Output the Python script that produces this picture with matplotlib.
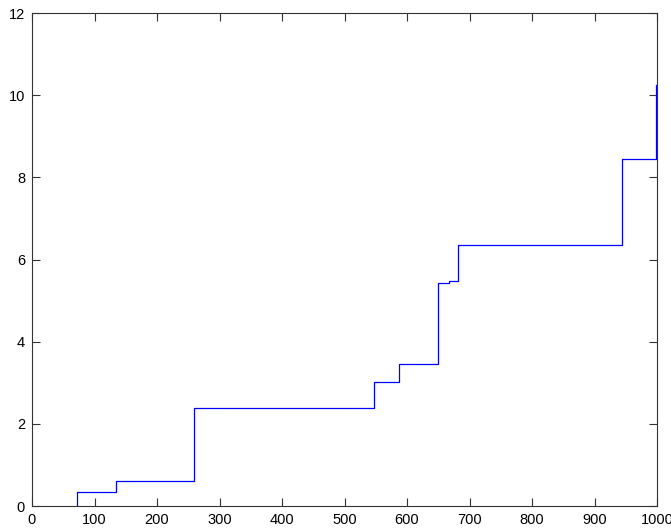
import matplotlib
matplotlib.use('Agg')
from matplotlib import pyplot as plt

# 阶梯曲线：每个跳变位置及跳变后的取值
jump_x = [71.5, 71.5, 134, 259, 547, 587, 649, 667, 681, 944, 999]
level_y = [0.0, 0.33, 0.61, 2.38, 3.01, 3.45, 5.42, 5.48, 6.35, 8.45, 10.25]

x_ticks = [0, 100, 200, 300, 400, 500, 600, 700, 800, 900, 1000]
y_ticks = [0, 2, 4, 6, 8, 10, 12]

plt.rcParams['font.family'] = ['Liberation Sans', 'DejaVu Sans']
fig = plt.figure(figsize=(6.71, 5.29), dpi=100)
ax = fig.add_axes([32 / 671, 1 - 506 / 529, 625 / 671, 493 / 529])

ax.step(jump_x, level_y, where='post', color='#0000ff', linewidth=0.9)

ax.set_xlim(0, 1000)
ax.set_ylim(0, 12)
ax.set_xticks(x_ticks)
ax.set_yticks(y_ticks)
ax.tick_params(direction='in', length=6, width=0.8, colors='#333333',
               labelcolor='black', labelsize=10.5, top=True, right=True, pad=5)
for side in ax.spines.values():
    side.set_color('#333333')
    side.set_linewidth(0.8)

fig.savefig('out.png', dpi=100)
